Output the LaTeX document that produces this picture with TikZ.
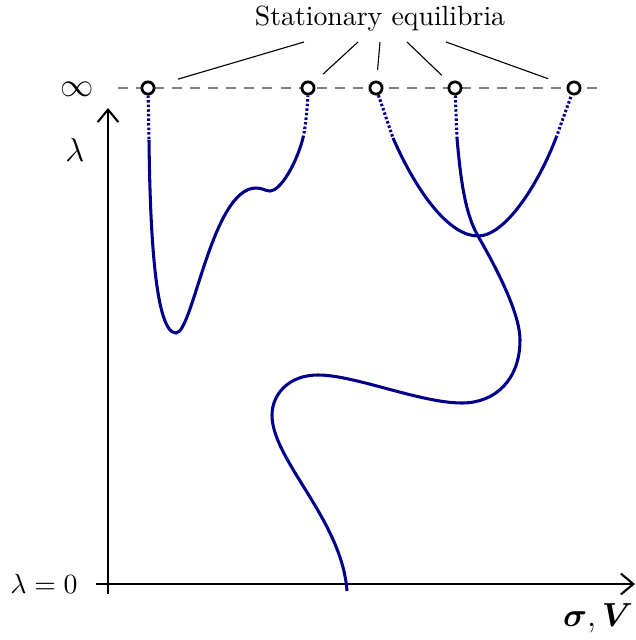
\documentclass[tikz,border=0pt]{standalone}
\usepackage{amsmath}
\usetikzlibrary{arrows.meta}
\definecolor{curveblue}{RGB}{0,0,139}
\begin{document}
\begin{tikzpicture}[x=0.36pt,y=-0.36pt,
  axisline/.style={line width=0.75pt,-{Straight Barb[length=4.5pt,width=7.5pt]}},
  curveline/.style={curveblue,line width=1.1pt},
  dotcurve/.style={curveblue,line width=1.1pt,dash pattern=on 0.9pt off 0.75pt},
  eqpt/.style={circle,draw=black,fill=white,line width=1pt,inner sep=0pt,minimum size=4.4pt},
  ptr/.style={line width=0.4pt},
  infline/.style={gray,line width=0.7pt,dash pattern=on 3.6pt off 2.9pt}]
\useasboundingbox (0,0) rectangle (636,640);
% axes
\coordinate (yb) at (108,594);
\coordinate (yt) at (108,108);
\coordinate (xl) at (96,584);
\coordinate (xr) at (635,584);
\draw[axisline] (yb) -- (yt);
\draw[axisline] (xl) -- (xr);
\node (l0) at (44,584) {$\lambda=0$};
\node (lam) at (75,150) {\large$\lambda$};
\node (inf) at (77,89) {\large$\infty$};
\node (sv) at (598,618) {\large$\boldsymbol{\sigma},\boldsymbol{V}$};
% dashed line at infinity
\coordinate (il) at (118,88);
\coordinate (ir) at (605,88);
\draw[infline] (il) -- (ir);
% curve 1
\draw[curveline] (149,140) .. controls (150,230) and (155,333) .. (176,333)
  .. controls (193,333) and (212,188) .. (256,188)
  .. controls (263,188) and (265,191) .. (270,191)
  .. controls (280,191) and (296,165) .. (303,138);
% curve 2
\draw[curveline] (393,138) .. controls (418,195) and (450,236) .. (478,236)
  .. controls (505,236) and (538,185) .. (556,138);
% curve 3
\draw[curveline] (457,138) .. controls (461,185) and (466,215) .. (478,236)
  .. controls (490,257) and (520,310) .. (520,340)
  .. controls (520,380) and (495,403) .. (462,403)
  .. controls (420,403) and (355,375) .. (318,375)
  .. controls (288,375) and (272,395) .. (272,415)
  .. controls (272,460) and (342,520) .. (347,591);
% equilibria
\node[eqpt] (e1) at (148,88) {};
\node[eqpt] (e2) at (308,88) {};
\node[eqpt] (e3) at (376,88) {};
\node[eqpt] (e4) at (455,88) {};
\node[eqpt] (e5) at (574,88) {};
% dotted ends
\draw[dotcurve] (e1) -- (149,140);
\draw[dotcurve] (303,138) .. controls (306,124) and (307,110) .. (e2.south);
\draw[dotcurve] (e3) -- (393,138);
\draw[dotcurve] (e4) -- (457,138);
\draw[dotcurve] (556,138) -- (e5);
% label and pointers
\node (lab) at (380,19) {Stationary equilibria};
\coordinate (t1) at (304,42);
\coordinate (t2) at (358,42);
\coordinate (t3) at (380,42);
\coordinate (t4) at (407,42);
\coordinate (t5) at (446,42);
\draw[ptr,shorten >=11.2pt] (t1) -- (e1.center);
\draw[ptr,shorten >=7.4pt] (t2) -- (e2.center);
\draw[ptr,shorten >=6.5pt] (t3) -- (e3.center);
\draw[ptr,shorten >=6.6pt] (t4) -- (e4.center);
\draw[ptr,shorten >=9.9pt] (t5) -- (e5.center);
\end{tikzpicture}
\end{document}
